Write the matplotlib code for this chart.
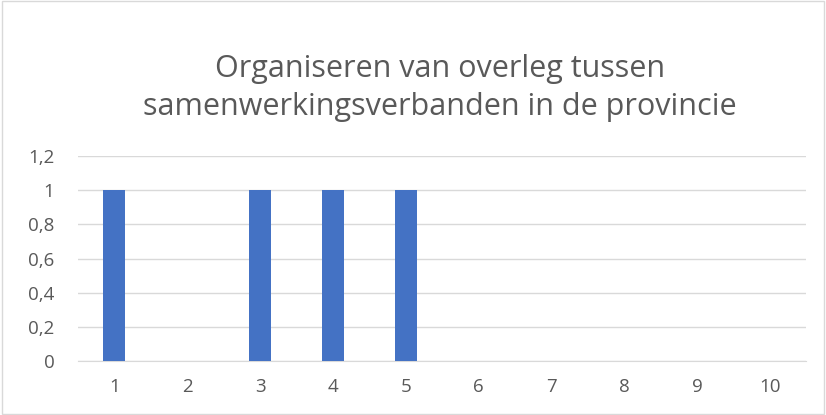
import matplotlib.pyplot as plt
from matplotlib.patches import Rectangle

categories = [1, 2, 3, 4, 5, 6, 7, 8, 9, 10]
values = [1, 0, 1, 1, 1, 0, 0, 0, 0, 0]
y_ticks = [0, 0.2, 0.4, 0.6, 0.8, 1, 1.2]
y_labels = ["0", "0,2", "0,4", "0,6", "0,8", "1", "1,2"]
title = "Organiseren van overleg tussen\nsamenwerkingsverbanden in de provincie"

plt.rcParams['font.family'] = ['Open Sans', 'DejaVu Sans']

fig = plt.figure(figsize=(8.26, 4.15), dpi=100)
ax = fig.add_axes([0.0944, 0.130, 0.8816, 0.494])

ax.bar(categories, values, width=0.3, color='#4472C4', zorder=3)
ax.set_xlim(0.5, 10.5)
ax.set_ylim(0, 1.2)
ax.set_yticks(y_ticks)
ax.set_yticklabels(y_labels)
ax.set_xticks(categories)
ax.grid(axis='y', color='#d9d9d9', linewidth=1, zorder=0)

for s in ['top', 'right', 'left']:
    ax.spines[s].set_visible(False)
ax.spines['bottom'].set_color('#d9d9d9')
ax.tick_params(axis='both', length=0, labelsize=13.5, labelcolor='#595959')
ax.tick_params(axis='x', pad=12)
ax.tick_params(axis='y', pad=17)

fig.text(0.533, 0.788, title, ha='center', va='center', fontsize=22,
         color='#595959', linespacing=1.37)

fig.patches.append(Rectangle((0.002, 0.002), 0.996, 0.996, transform=fig.transFigure,
                             fill=False, edgecolor='#d9d9d9', linewidth=1))

fig.savefig('out.png', dpi=100)
